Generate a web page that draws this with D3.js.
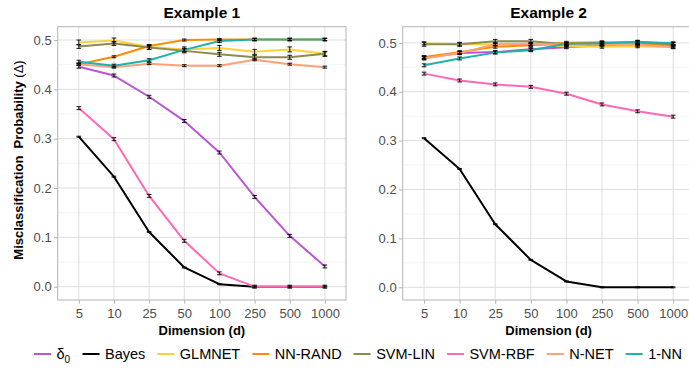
<!DOCTYPE html>
<html><head><meta charset="utf-8">
<script src="https://cdn.jsdelivr.net/npm/d3@7"></script>
<style>body{margin:0;background:#fff}svg{display:block;font-family:"Liberation Sans",Arial,sans-serif}</style>
</head><body><svg id="c" width="689" height="371"></svg>
<script>
const dims = ["5","10","25","50","100","250","500","1000"];
const methods = ["δ0","Bayes","GLMNET","NN-RAND","SVM-LIN","SVM-RBF","N-NET","1-NN"];
const colors = ["#BA55D3","#000000","#FFD039","#FF8C00","#8B8B50","#FF69B4","#FFA07A","#20B2AA"];
const yTicks = [0,0.1,0.2,0.3,0.4,0.5];
const yMinor = [0.05,0.15,0.25,0.35,0.45];

// Example 1
const ex1Delta0 = [0.446,0.428,0.385,0.336,0.272,0.182,0.103,0.041];
const ex1Bayes  = [0.304,0.223,0.111,0.039,0.005,0.000,0.000,0.000];
const ex1Glmnet = [0.495,0.499,0.486,0.481,0.484,0.476,0.481,0.472];
const ex1NnRand = [0.451,0.466,0.488,0.500,0.501,0.501,0.501,0.501];
const ex1SvmLin = [0.487,0.493,0.485,0.478,0.471,0.465,0.465,0.472];
const ex1SvmRbf = [0.362,0.299,0.184,0.093,0.027,0.000,0.000,0.000];
const ex1NNet   = [0.451,0.445,0.452,0.448,0.448,0.460,0.451,0.445];
const ex1OneNN  = [0.456,0.448,0.459,0.480,0.498,0.501,0.501,0.501];
const ex1Se     = [0.003,0.001,0.005,0.002,0.004,0.003,0.002,0.003];

// Example 2
const ex2Delta0 = [0.469,0.479,0.481,0.487,0.491,0.495,0.497,0.497];
const ex2Bayes  = [0.305,0.242,0.129,0.056,0.012,0.000,0.000,0.000];
const ex2Glmnet = [0.499,0.497,0.497,0.497,0.493,0.492,0.493,0.492];
const ex2NnRand = [0.471,0.481,0.492,0.495,0.500,0.501,0.500,0.494];
const ex2SvmLin = [0.497,0.497,0.503,0.503,0.497,0.499,0.501,0.497];
const ex2SvmRbf = [0.437,0.423,0.415,0.410,0.396,0.374,0.360,0.349];
const ex2NNet   = [0.468,0.479,0.497,0.498,0.496,0.497,0.496,0.491];
const ex2OneNN  = [0.454,0.468,0.480,0.485,0.498,0.499,0.502,0.499];
const ex2Se     = [0.003,0.001,0.003,0.003,0.004,0.003,0.003,0.003];

const panels = [
  {title:"Example 1", x0:57.7, x1:346, dom:[-0.027,0.527], se:ex1Se,
   series:[ex1Delta0,ex1Bayes,ex1Glmnet,ex1NnRand,ex1SvmLin,ex1SvmRbf,ex1NNet,ex1OneNN]},
  {title:"Example 2", x0:402.7, x1:694.5, dom:[-0.026,0.533], se:ex2Se,
   series:[ex2Delta0,ex2Bayes,ex2Glmnet,ex2NnRand,ex2SvmLin,ex2SvmRbf,ex2NNet,ex2OneNN]}
];
const yTop = 26.7, yBot = 300;
const svg = d3.select("#c");
const txtCol = "#4d4d4d";
const ff = "Liberation Sans, Arial, sans-serif";

panels.forEach(p => {
  const x = d3.scalePoint().domain(dims).range([p.x0,p.x1]).padding(0.6);
  const y = d3.scaleLinear().domain(p.dom).range([yBot,yTop]);
  const g = svg.append("g");
  // grid
  g.selectAll(".ymin").data(yMinor).join("line")
    .attr("x1",p.x0).attr("x2",p.x1).attr("y1",d=>y(d)).attr("y2",d=>y(d))
    .attr("stroke","#ebebeb").attr("stroke-width",0.6);
  g.selectAll(".ymaj").data(yTicks).join("line")
    .attr("x1",p.x0).attr("x2",p.x1).attr("y1",d=>y(d)).attr("y2",d=>y(d))
    .attr("stroke","#dedede").attr("stroke-width",1);
  g.selectAll(".xmaj").data(dims).join("line")
    .attr("x1",d=>x(d)).attr("x2",d=>x(d)).attr("y1",yTop).attr("y2",yBot)
    .attr("stroke","#dedede").attr("stroke-width",1);
  // axes
  const ya = d3.axisLeft(y).tickValues(yTicks).tickFormat(d3.format(".1f")).tickSize(3.7).tickPadding(2.3);
  const yg = g.append("g").attr("transform",`translate(${p.x0},0)`).call(ya);
  const xa = d3.axisBottom(x).tickSize(3.7).tickPadding(4.6);
  const xg = g.append("g").attr("transform",`translate(0,${yBot})`).call(xa);
  [yg,xg].forEach(a=>{
    a.attr("font-family",ff);
    a.select(".domain").remove();
    a.selectAll(".tick line").attr("stroke","#b3b3b3");
    a.selectAll(".tick text").attr("fill",txtCol).attr("font-size",13);
  });
  // lines
  const line = d3.line().x((d,i)=>x(dims[i])).y(d=>y(d));
  p.series.forEach((s,k)=>{
    g.append("path").datum(s).attr("d",line).attr("fill","none")
      .attr("stroke",colors[k]).attr("stroke-width",2).attr("stroke-linejoin","round");
  });
  // error bars
  p.series.forEach((s,k)=>{
    const e = p.se[k];
    const eb = g.append("g").attr("stroke","#000").attr("stroke-width",0.9);
    s.forEach((v,i)=>{
      const cx = x(dims[i]);
      const lo = y(v-e), hi = y(v+e);
      eb.append("line").attr("x1",cx).attr("x2",cx).attr("y1",lo).attr("y2",hi);
      eb.append("line").attr("x1",cx-2.3).attr("x2",cx+2.3).attr("y1",lo).attr("y2",lo);
      eb.append("line").attr("x1",cx-2.3).attr("x2",cx+2.3).attr("y1",hi).attr("y2",hi);
    });
  });
  // border
  g.append("rect").attr("x",p.x0).attr("y",yTop).attr("width",p.x1-p.x0).attr("height",yBot-yTop)
    .attr("fill","none").attr("stroke","#b3b3b3").attr("stroke-width",1);
  // titles
  const cx = (p.x0+p.x1)/2;
  g.append("text").attr("x",cx).attr("y",18.3).attr("text-anchor","middle")
    .attr("font-weight","bold").attr("font-size",15.5).text(p.title);
  g.append("text").attr("x",cx).attr("y",334.5).attr("text-anchor","middle")
    .attr("font-weight","bold").attr("font-size",13).text("Dimension (d)");
});

// y-axis title
const yt = svg.append("text").attr("transform","translate(23,160) rotate(-90)")
  .attr("text-anchor","middle").attr("font-size",13);
yt.append("tspan").attr("font-weight","bold").text("Misclassification\u00a0\u00a0Probability ");
yt.append("tspan").text("(Δ)");

// legend
const lg = svg.append("g");
const items = [];
methods.forEach((m,k)=>{
  const it = lg.append("g");
  it.append("line").attr("x1",0).attr("x2",17).attr("y1",0).attr("y2",0)
    .attr("stroke",colors[k]).attr("stroke-width",2);
  const t = it.append("text").attr("x",22.5).attr("y",5.2).attr("font-size",14.5).attr("fill","#000");
  if (m === "δ0") { t.append("tspan").text("δ"); t.append("tspan").attr("font-size",10).attr("dy",3.5).text("0"); }
  else t.text(m);
  const w = 22.5 + t.node().getBBox().width;
  items.push({it,w});
});
const span0 = 34, span1 = 682;
const gap = (span1 - span0 - d3.sum(items,d=>d.w)) / (items.length-1);
let xx = span0;
items.forEach(d=>{ d.it.attr("transform",`translate(${xx},354)`); xx += d.w + gap; });
</script></body></html>
